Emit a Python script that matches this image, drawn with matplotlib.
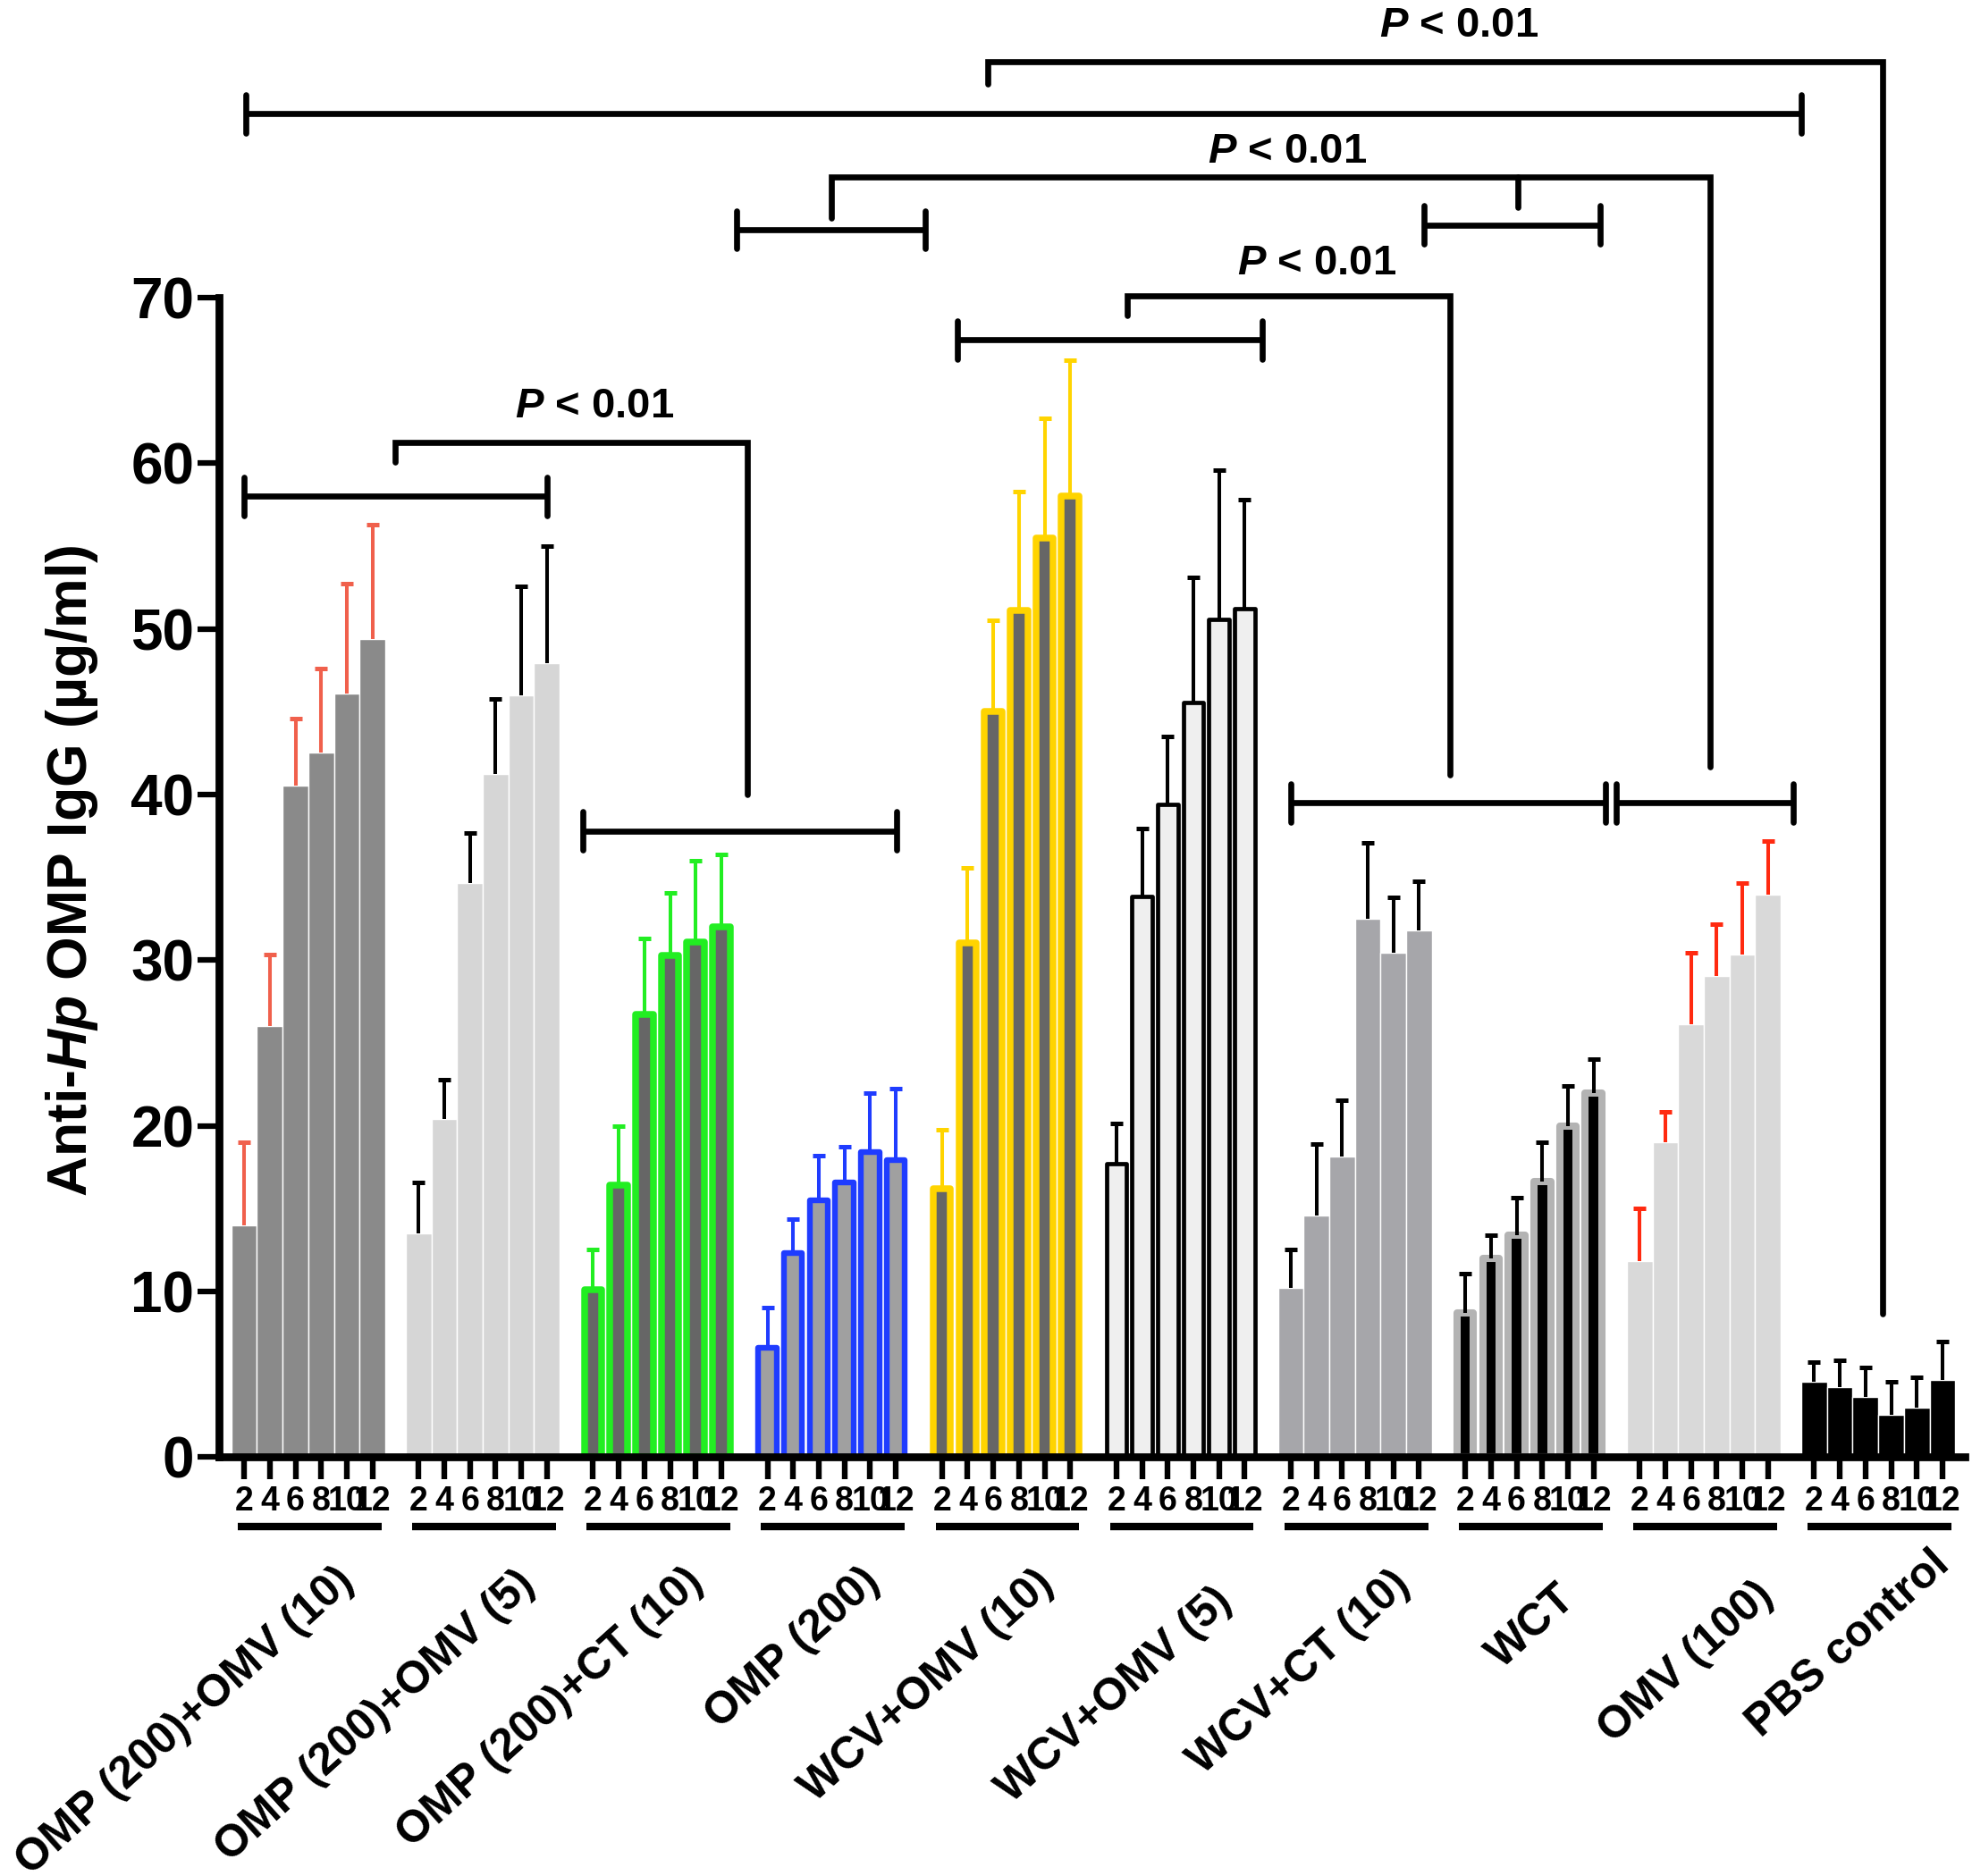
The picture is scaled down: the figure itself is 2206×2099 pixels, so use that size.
import numpy as np
import matplotlib.pyplot as plt

plt.rcParams['font.family'] = ['Liberation Sans', 'DejaVu Sans']
plt.rcParams['font.weight'] = 'bold'
plt.rcParams['mathtext.fontset'] = 'custom'
plt.rcParams['mathtext.rm'] = 'Liberation Sans:bold'
plt.rcParams['mathtext.it'] = 'Liberation Sans:italic:bold'
plt.rcParams['mathtext.bf'] = 'Liberation Sans:bold'

# weeks after immunisation
weeks = ['2', '4', '6', '8', '10', '12']
groups = ['OMP (200)+OMV (10)', 'OMP (200)+OMV (5)', 'OMP (200)+CT (10)',
          'OMP (200)', 'WCV+OMV (10)', 'WCV+OMV (5)', 'WCV+CT (10)',
          'WCT', 'OMV (100)', 'PBS control']

# mean anti-Hp OMP IgG (ug/ml) and upper error
omp_omv10 = [14.0, 26.0, 40.55, 42.55, 46.1, 49.4]
omp_omv10_err = [5.0, 4.35, 4.05, 5.05, 6.65, 6.9]
omp_omv5 = [13.5, 20.4, 34.65, 41.25, 46.0, 47.95]
omp_omv5_err = [3.05, 2.4, 3.0, 4.5, 6.6, 7.05]
omp_ct = [10.1, 16.4, 26.7, 30.3, 31.1, 32.0]
omp_ct_err = [2.45, 3.6, 4.6, 3.75, 4.9, 4.4]
omp = [6.6, 12.3, 15.5, 16.6, 18.4, 17.95]
omp_err = [2.4, 2.05, 2.7, 2.15, 3.55, 4.3]
wcv_omv10 = [16.2, 31.05, 45.0, 51.1, 55.5, 58.0]
wcv_omv10_err = [3.55, 4.5, 5.5, 7.2, 7.2, 8.25]
wcv_omv5 = [17.7, 33.85, 39.4, 45.55, 50.6, 51.2]
wcv_omv5_err = [2.45, 4.1, 4.1, 7.55, 9.0, 6.6]
wcv_ct = [10.2, 14.6, 18.15, 32.5, 30.45, 31.8]
wcv_ct_err = [2.3, 4.3, 3.4, 4.6, 3.35, 2.95]
wct = [8.7, 12.0, 13.4, 16.65, 19.95, 21.95]
wct_err = [2.35, 1.4, 2.25, 2.35, 2.45, 2.05]
omv = [11.8, 19.0, 26.1, 29.05, 30.35, 33.95]
omv_err = [3.2, 1.85, 4.35, 3.1, 4.3, 3.25]
pbs = [4.55, 4.2, 3.6, 2.55, 2.95, 4.65]
pbs_err = [1.2, 1.65, 1.8, 2.0, 1.85, 2.3]

means = [omp_omv10, omp_omv5, omp_ct, omp, wcv_omv10, wcv_omv5, wcv_ct, wct, omv, pbs]
errs = [omp_omv10_err, omp_omv5_err, omp_ct_err, omp_err, wcv_omv10_err,
        wcv_omv5_err, wcv_ct_err, wct_err, omv_err, pbs_err]

# face, edge, bar width, edge width, error colour
styles = [('#8a8a8a', 'white', 1.0, 1.0, '#f0604c'),
          ('#d6d6d6', 'white', 1.0, 1.0, 'black'),
          ('#666666', '#22ee22', 0.68, 5.4, '#22ee22'),
          ('#a0a0a0', '#1f3cff', 0.71, 4.6, '#1f3cff'),
          ('#666666', '#ffd400', 0.68, 5.4, '#ffd400'),
          ('#efefef', 'black', 0.79, 3.4, 'black'),
          ('#a6a6aa', 'white', 1.0, 1.0, 'black'),
          ('black', '#b3b3b3', 0.645, 5.8, 'black'),
          ('#d9d9d9', 'white', 1.0, 1.0, '#ff2a10'),
          ('black', 'white', 1.0, 1.0, 'black')]

pitch = 6.8
fig = plt.figure(figsize=(22.06, 20.99), dpi=100)
ax = fig.add_axes([0.1111, 0.2234, 0.8851, 0.6179])

ticks = []
for g in range(len(groups)):
    x = g * pitch + np.arange(len(weeks))
    ticks.extend(x)
    fc, ec, w, lw, errc = styles[g]
    m = np.array(means[g])
    top = m + np.array(errs[g])
    ax.bar(x, m, width=w, color=fc, edgecolor=ec, linewidth=lw, joinstyle='round', zorder=2)
    ax.vlines(x, m, top, color=errc, lw=2.9, zorder=3)
    ax.plot(x, top, ls='none', marker='_', ms=9.5, mew=3.6, color=errc, zorder=3)

ax.set_xlim(-0.977, 67.06)
ax.set_ylim(0, 70)
ax.set_xticks(ticks)
ax.set_xticklabels(weeks * len(groups))
ax.set_yticks(range(0, 71, 10))
ax.tick_params(axis='x', length=18, width=4.6, pad=5, labelsize=27)
ax.tick_params(axis='y', length=17, width=4.5, pad=3, labelsize=46)
for s in ['top', 'right']:
    ax.spines[s].set_visible(False)
for s in ['left', 'bottom']:
    ax.spines[s].set_linewidth(6.3)
    ax.spines[s].set_capstyle('projecting')

# group underlines and names
label_dx = [1.0, 1.27, 1.02, 1.1, 1.09, 1.23, 1.38, 1.03, 1.94, 2.0]
label_y = [-6.2, -6.4, -6.25, -6.25, -6.4, -7.45, -6.4, -7.3, -7.1, -5.2]
for g, name in enumerate(groups):
    x0 = g * pitch
    ax.plot([x0 - 0.25, x0 + 5.35], [-4.2, -4.2], color='black', lw=6,
            clip_on=False, solid_capstyle='butt')
    ax.text(x0 + 2.5 + label_dx[g], label_y[g], name, rotation=42, ha='right',
            va='top', rotation_mode='anchor', fontsize=36, fontweight='bold')

fig.text(0.0363, 0.536, 'Anti-$Hp$ OMP IgG (µg/ml)', rotation=90, ha='center',
         va='center', fontsize=45, fontweight='bold')


def hbar(x0, x1, y):
    ax.plot([x0, x1], [y, y], color='black', lw=4.8, clip_on=False, solid_capstyle='butt')
    for xx in (x0, x1):
        ax.plot([xx, xx], [y - 1.15, y + 1.15], color='black', lw=4.8,
                clip_on=False, solid_capstyle='round')


def bracket(xl, yl, yt, xr, yr):
    ax.plot([xl, xl, xr, xr], [yl, yt, yt, yr], color='black', lw=4.8,
            clip_on=False, solid_joinstyle='miter', solid_capstyle='round')


hbar(0.0, 11.8, 58.0)
hbar(13.2, 25.45, 37.8)
hbar(27.8, 39.7, 67.45)
hbar(40.8, 53.05, 39.5)
hbar(53.5, 60.4, 39.5)
hbar(19.2, 26.55, 74.1)
hbar(46.0, 52.85, 74.4)
hbar(0.07, 60.7, 81.1)

bracket(5.88, 60.1, 61.25, 19.6, 40.0)
bracket(34.44, 68.9, 70.1, 47.0, 41.2)
bracket(22.9, 74.83, 77.3, 57.15, 41.66)
ax.plot([49.65, 49.65], [77.3, 75.45], color='black', lw=4.8, clip_on=False,
        solid_capstyle='round')
bracket(29.0, 82.9, 84.23, 63.87, 8.66)

for tx, ty in [(13.67, 63.4), (41.8, 72.06), (40.66, 78.8), (47.35, 86.4)]:
    ax.text(tx, ty, '$P$ < 0.01', ha='center', va='center', fontsize=34,
            fontweight='bold', clip_on=False)

fig.savefig('out.png', dpi=100)
